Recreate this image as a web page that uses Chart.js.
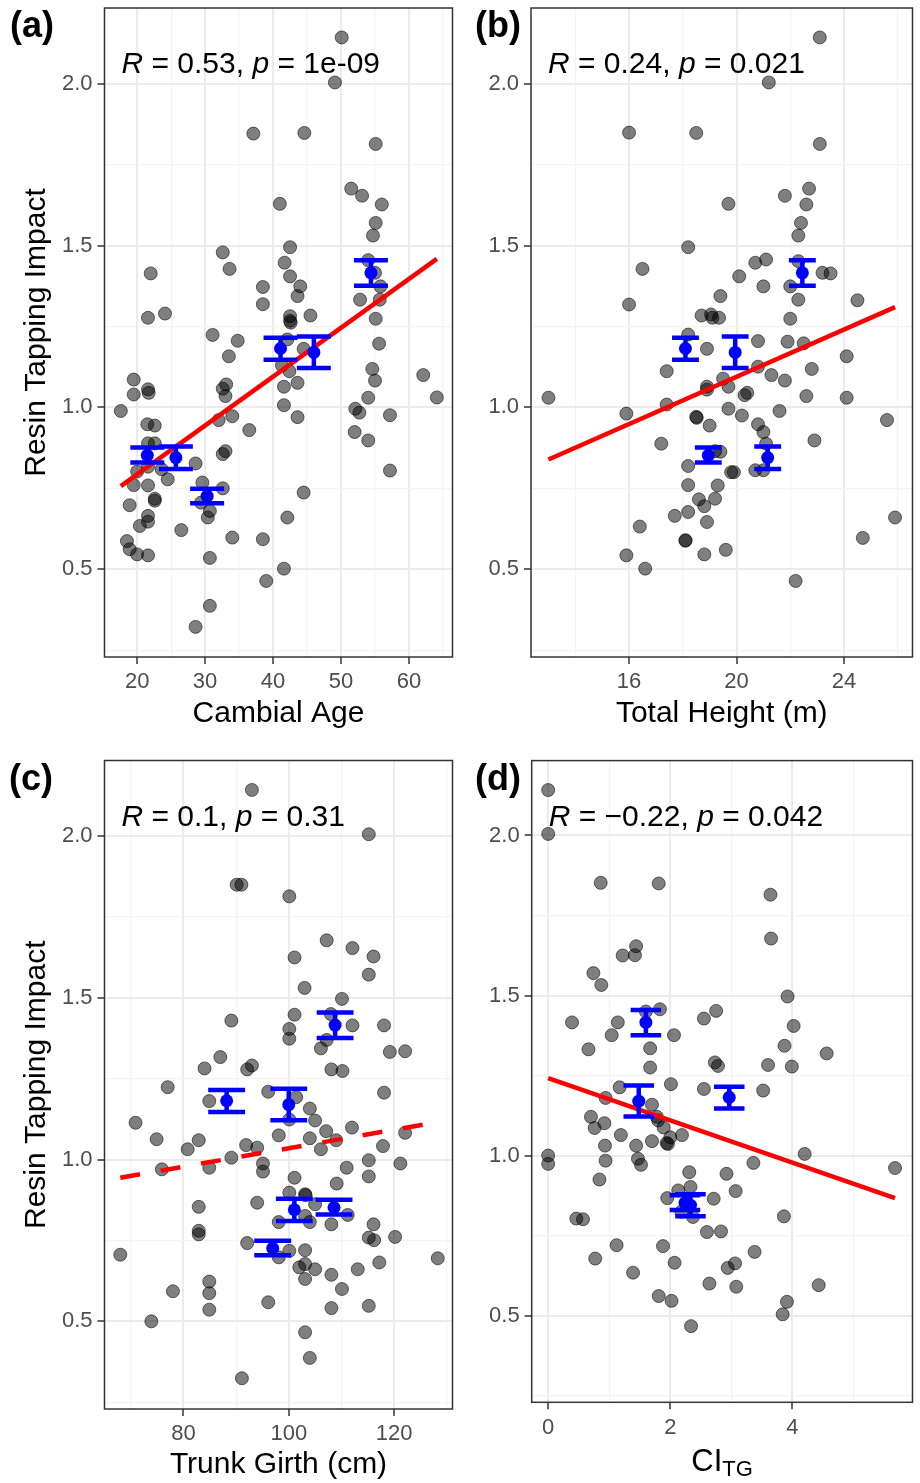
<!DOCTYPE html>
<html>
<head>
<meta charset="utf-8">
<script src="https://cdn.jsdelivr.net/npm/chart.js@4.4.1/dist/chart.umd.min.js"></script>
<style>
  body { margin: 0; background: #fff; }
  #wrap { position: relative; width: 920px; height: 1483px; background: #fff; }
  #wrap canvas { position: absolute; }
</style>
</head>
<body>
<div id="wrap">
  <canvas id="panelA" width="460" height="745" style="left:0;top:0"></canvas>
  <canvas id="panelB" width="460" height="745" style="left:460px;top:0"></canvas>
  <canvas id="panelC" width="460" height="738" style="left:0;top:745px"></canvas>
  <canvas id="panelD" width="460" height="738" style="left:460px;top:745px"></canvas>
</div>
<script>
// ---- data ----
const yTicks = [0.5, 1, 1.5, 2];
const yTickLabels = ['0.5', '1.0', '1.5', '2.0'];
const yMinor = [0.25, 0.75, 1.25, 1.75];

const ageTicks = [20, 30, 40, 50, 60];
const ageTickLabels = ['20', '30', '40', '50', '60'];
const ageMinor = [25, 35, 45, 55, 65];
const heightTicks = [16, 20, 24];
const heightTickLabels = ['16', '20', '24'];
const heightMinor = [14, 18, 22, 26];
const girthTicks = [80, 100, 120];
const girthTickLabels = ['80', '100', '120'];
const girthMinor = [70, 90, 110, 130];
const ciTicks = [0, 2, 4];
const ciTickLabels = ['0', '2', '4'];
const ciMinor = [1, 3, 5];

// (a) cambial age vs impact
const ageX = [50.1, 49.1, 37.1, 44.6, 55.1, 51.5, 53.1, 56.0, 41.0, 55.1, 54.7, 42.5, 32.6, 22.0, 33.6, 41.7, 54.0, 55.0, 42.5, 44.0,
  38.5, 55.8, 43.6, 52.8, 55.7, 38.5, 21.6, 24.1, 42.5, 42.5, 42.6, 45.5, 55.1, 31.1, 34.8, 42.1, 44.5, 55.6, 33.5, 54.6,
  55.0, 62.1, 64.1, 41.3, 42.4, 43.6, 41.6, 54.0, 41.6, 43.6, 52.1, 52.7, 57.2, 52.0, 54.0, 57.2, 19.5, 19.5, 21.6, 21.7,
  17.6, 33.1, 32.6, 33.0, 34.0, 32.0, 36.5, 21.5, 22.6, 21.6, 22.6, 21.6, 23.6, 24.5, 20.0, 19.5, 21.6, 28.6, 33.0, 32.6,
  29.6, 32.6, 22.6, 22.6, 18.9, 29.4, 30.7, 30.4, 21.6, 21.6, 20.4, 26.5, 44.5, 42.1, 34.0, 38.5, 18.5, 18.9, 20.0, 21.6,
  30.7, 41.6, 39.0, 30.7, 28.6];
const ageY = [2.143, 2.004, 1.846, 1.848, 1.814, 1.676, 1.654, 1.627, 1.629, 1.570, 1.531, 1.495, 1.479, 1.414, 1.428, 1.447, 1.455, 1.416, 1.405, 1.374,
  1.372, 1.374, 1.344, 1.333, 1.333, 1.319, 1.277, 1.290, 1.282, 1.268, 1.262, 1.284, 1.274, 1.224, 1.206, 1.210, 1.181, 1.197, 1.158, 1.119,
  1.083, 1.100, 1.031, 1.130, 1.112, 1.076, 1.064, 1.030, 1.007, 0.970, 0.996, 0.984, 0.976, 0.924, 0.898, 0.805, 1.086, 1.040, 1.056, 1.045,
  0.989, 1.071, 1.058, 1.035, 0.973, 0.961, 0.930, 0.948, 0.944, 0.889, 0.889, 0.817, 0.809, 0.778, 0.802, 0.760, 0.759, 0.827, 0.865, 0.856,
  0.768, 0.750, 0.718, 0.712, 0.698, 0.706, 0.680, 0.660, 0.665, 0.647, 0.634, 0.621, 0.737, 0.660, 0.598, 0.593, 0.587, 0.562, 0.546, 0.543,
  0.535, 0.502, 0.464, 0.387, 0.322];

// (b) total height vs impact
const heightX = [23.1, 21.2, 16.0, 18.5, 23.1, 22.7, 21.8, 22.6, 19.7, 22.4, 22.3, 18.2, 21.1, 20.7, 22.3, 16.5, 20.1, 23.2, 23.5, 21.0,
  22.0, 19.4, 16.0, 22.3, 24.5, 18.7, 19.05, 19.1, 19.35, 22.0, 18.2, 18.9, 20.8, 21.9, 22.5, 24.1, 22.8, 20.8, 17.4, 21.3,
  21.8, 19.5, 18.9, 18.9, 19.7, 20.4, 20.3, 13.0, 22.6, 24.1, 17.4, 15.9, 19.7, 20.2, 21.6, 25.6, 18.5, 18.52, 19.0, 20.8,
  21.0, 17.2, 22.9, 21.1, 19.2, 19.4, 18.2, 19.8, 19.9, 20.7, 21.0, 18.2, 19.3, 18.6, 18.8, 19.2, 17.7, 18.2, 18.9, 16.4,
  25.9, 24.7, 18.1, 18.1, 15.9, 18.8, 19.6, 16.6, 22.2];
const heightY = [2.143, 2.004, 1.849, 1.848, 1.814, 1.676, 1.654, 1.627, 1.629, 1.570, 1.531, 1.495, 1.457, 1.447, 1.452, 1.428, 1.405, 1.416, 1.414, 1.374,
  1.374, 1.344, 1.318, 1.333, 1.331, 1.284, 1.287, 1.277, 1.277, 1.274, 1.225, 1.181, 1.205, 1.203, 1.198, 1.158, 1.119, 1.126, 1.112, 1.100,
  1.083, 1.089, 1.064, 1.055, 1.064, 1.045, 1.038, 1.030, 1.035, 1.030, 1.009, 0.981, 0.996, 0.975, 0.989, 0.961, 0.971, 0.968, 0.944, 0.948,
  0.924, 0.888, 0.898, 0.888, 0.865, 0.863, 0.819, 0.800, 0.800, 0.806, 0.806, 0.760, 0.759, 0.716, 0.695, 0.718, 0.665, 0.677, 0.646, 0.632,
  0.660, 0.597, 0.590, 0.588, 0.543, 0.546, 0.560, 0.502, 0.464];

// (c) trunk girth vs impact
const girthX = [93.0, 115.2, 90.1, 91.0, 100.1, 107.2, 112.1, 116.1, 101.1, 115.2, 103.0, 110.1, 101.1, 108.0, 89.1, 112.1, 118.1, 100.1, 100.1, 107.2,
  106.1, 119.2, 122.1, 87.0, 84.0, 93.0, 92.1, 108.1, 110.2, 77.0, 118.1, 84.9, 96.1, 101.4, 104.0, 105.0, 100.1, 70.9, 112.0, 107.1,
  122.1, 74.9, 82.9, 98.1, 104.0, 109.0, 80.8, 91.9, 94.0, 106.1, 117.9, 89.1, 95.1, 95.1, 75.9, 84.9, 115.2, 121.2, 111.0, 115.2,
  101.1, 109.1, 100.1, 103.1, 103.2, 82.9, 94.0, 105.0, 111.2, 103.1, 98.1, 104.0, 108.1, 116.1, 82.9, 82.9, 115.2, 116.2, 120.2, 92.1,
  68.0, 98.1, 100.1, 103.1, 103.1, 102.0, 105.0, 103.1, 108.1, 113.1, 117.2, 128.3, 84.9, 84.9, 84.9, 78.0, 110.1, 96.1, 108.1, 115.2,
  73.9, 103.1, 104.0, 91.1];
const girthY = [2.143, 2.006, 1.850, 1.850, 1.814, 1.678, 1.654, 1.628, 1.625, 1.572, 1.531, 1.497, 1.448, 1.450, 1.430, 1.415, 1.415, 1.404, 1.374, 1.370,
  1.344, 1.333, 1.335, 1.317, 1.282, 1.291, 1.279, 1.279, 1.274, 1.224, 1.207, 1.181, 1.210, 1.193, 1.158, 1.121, 1.124, 1.114, 1.099, 1.088,
  1.083, 1.063, 1.060, 1.075, 1.066, 1.060, 1.032, 1.045, 1.037, 1.032, 1.042, 1.006, 0.988, 0.963, 0.970, 0.975, 0.998, 0.988, 0.975, 0.948,
  0.944, 0.926, 0.898, 0.893, 0.890, 0.854, 0.867, 0.862, 0.829, 0.826, 0.807, 0.807, 0.800, 0.800, 0.780, 0.769, 0.759, 0.751, 0.761, 0.742,
  0.706, 0.698, 0.718, 0.720, 0.677, 0.667, 0.661, 0.631, 0.644, 0.661, 0.682, 0.695, 0.623, 0.587, 0.536, 0.593, 0.600, 0.559, 0.541, 0.548,
  0.500, 0.466, 0.387, 0.324];

// (d) competition index vs impact
const ciX = [0, 0, 0.86, 1.81, 3.64, 3.65, 1.44, 1.22, 1.42, 0.74, 0.87, 3.92, 2.75, 2.55, 1.83, 1.60, 0.39, 1.14, 1.04, 2.06,
  4.02, 0.66, 1.67, 3.87, 4.56, 1.67, 2.73, 2.78, 3.60, 3.99, 2.01, 1.17, 2.55, 3.52, 0.94, 1.70, 0.70, 0.92, 0.76, 1.78,
  1.80, 1.89, 1.19, 2.19, 2.00, 1.94, 1.96, 1.70, 0.93, 1.44, 4.20, 0, 0, 0.94, 1.47, 1.52, 3.36, 5.68, 2.31, 2.92,
  0.84, 2.33, 3.07, 1.95, 2.13, 2.71, 2.18, 2.37, 0.46, 0.57, 3.86, 2.60, 2.83, 1.12, 1.88, 0.77, 2.07, 3.38, 2.94, 3.06,
  1.39, 2.64, 3.08, 4.43, 1.81, 2.02, 3.91, 3.84, 2.34];
const ciY = [2.142, 2.005, 1.852, 1.850, 1.815, 1.678, 1.654, 1.625, 1.626, 1.570, 1.533, 1.497, 1.452, 1.428, 1.457, 1.450, 1.416, 1.416, 1.376, 1.376,
  1.405, 1.332, 1.335, 1.343, 1.319, 1.275, 1.291, 1.280, 1.283, 1.278, 1.223, 1.213, 1.208, 1.203, 1.180, 1.159, 1.121, 1.101, 1.086, 1.121,
  1.110, 1.088, 1.064, 1.064, 1.057, 1.039, 1.036, 1.045, 1.031, 1.031, 1.005, 1.000, 0.974, 0.984, 0.990, 0.971, 0.977, 0.961, 0.948, 0.943,
  0.925, 0.902, 0.889, 0.867, 0.891, 0.865, 0.824, 0.808, 0.803, 0.801, 0.810, 0.761, 0.763, 0.720, 0.717, 0.678, 0.665, 0.699, 0.649, 0.663,
  0.634, 0.600, 0.590, 0.595, 0.561, 0.546, 0.543, 0.504, 0.467];

// group means with error bars (same groups in every panel; null = not shown)
const groupMean = [1.416, 1.182, 1.170, 0.852, 0.845, 0.726];
const groupLo = [1.376, 1.147, 1.122, 0.830, 0.810, 0.704];
const groupHi = [1.455, 1.215, 1.219, 0.876, 0.879, 0.749];
const groupAge = [54.4, 41.1, 46.0, 21.5, 25.7, 30.3];
const groupHeight = [22.45, 18.1, 19.95, 18.95, 21.16, null];
const groupGirth = [108.8, 88.2, 100.0, 108.6, 101.06, 96.95];
const groupCi = [1.60, 2.965, 1.483, 2.24, 2.33, null];

// fitted regression lines, end points
const fitAgeX = [17.6, 64.1];
const fitAgeY = [0.757, 1.459];
const fitHeightX = [13.0, 25.9];
const fitHeightY = [0.839, 1.310];
const fitGirthX = [68.0, 128.3];
const fitGirthY = [0.944, 1.116];
const fitCiX = [0, 5.68];
const fitCiY = [1.242, 0.867];

const corrR = ['0.53', '0.24', '0.1', '\u22120.22'];
const corrP = ['1e-09', '0.021', '0.31', '0.042'];

// ---- drawing ----
const FONT = '"Liberation Sans", Arial, Helvetica, sans-serif';
Chart.defaults.font.family = FONT;

const yRange = [0.229, 2.234];

function zip(xs, ys) {
  return xs.map((x, i) => ({ x: x, y: ys[i] })).filter(p => p.x !== null);
}

function makeAxis(horizontal, range, major, labels, minor, boxSize, title, titlePad) {
  const isMajor = v => major.includes(v);
  return {
    type: 'linear',
    position: horizontal ? 'bottom' : 'left',
    min: range[0],
    max: range[1],
    afterBuildTicks: s => {
      s.ticks = major.concat(minor).sort((a, b) => a - b).map(v => ({ value: v }));
    },
    afterFit: s => {
      if (horizontal) {
        s.height = boxSize; s.paddingLeft = 0; s.paddingRight = 0;
      } else {
        s.width = boxSize; s.paddingTop = 0; s.paddingBottom = 0;
      }
    },
    ticks: {
      autoSkip: false,
      maxRotation: 0,
      padding: 5,
      color: '#4d4d4d',
      font: { size: 22 },
      callback: v => {
        const i = major.indexOf(v);
        return i >= 0 ? labels[i] : '';
      }
    },
    grid: {
      color: c => (c.tick && isMajor(c.tick.value)) ? '#ebebeb' : '#f4f4f4',
      lineWidth: c => (c.tick && isMajor(c.tick.value)) ? 2 : 1.2,
      tickColor: c => (c.tick && isMajor(c.tick.value)) ? '#333333' : 'rgba(0,0,0,0)',
      tickWidth: 1.5,
      tickLength: 7,
      drawTicks: true
    },
    border: { display: false },
    title: title
      ? { display: true, text: title, color: '#000', font: { size: 30 }, padding: titlePad }
      : { display: false }
  };
}

function makePanel(id, p) {
  const decor = {
    id: 'decor',
    afterDraw(chart) {
      const { ctx, chartArea: a } = chart;
      ctx.save();
      ctx.strokeStyle = '#333333';
      ctx.lineWidth = 1.5;
      ctx.strokeRect(a.left, a.top, a.right - a.left, a.bottom - a.top);

      ctx.fillStyle = '#000';
      ctx.textBaseline = 'alphabetic';
      ctx.textAlign = 'left';
      ctx.font = 'bold 36px ' + FONT;
      ctx.fillText(p.label, p.labelX, a.top + 29);

      // correlation annotation, R and p in italics
      const runs = [
        { t: 'R', it: true }, { t: ' = ' + p.r + ', ' },
        { t: 'p', it: true }, { t: ' = ' + p.p }
      ];
      let ax = a.left + 17;
      runs.forEach(r => {
        ctx.font = (r.it ? 'italic ' : '') + '30px ' + FONT;
        ctx.fillText(r.t, ax, a.top + 65);
        ax += ctx.measureText(r.t).width;
      });

      // x title with subscript
      if (p.subTitle) {
        ctx.font = '31px ' + FONT;
        const w1 = ctx.measureText(p.subTitle[0]).width;
        ctx.font = '22px ' + FONT;
        const w2 = ctx.measureText(p.subTitle[1]).width;
        const x0 = (a.left + a.right) / 2 - (w1 + w2) / 2;
        const base = a.bottom + 69;
        ctx.font = '31px ' + FONT;
        ctx.fillText(p.subTitle[0], x0, base);
        ctx.font = '22px ' + FONT;
        ctx.fillText(p.subTitle[1], x0 + w1, base + 5);
      }
      ctx.restore();
    }
  };

  const errorBars = {
    id: 'errorBars',
    afterDatasetsDraw(chart) {
      const { ctx, scales: { x, y } } = chart;
      ctx.save();
      ctx.strokeStyle = '#0000ff';
      ctx.lineWidth = 4.5;
      p.groupX.forEach((gx, i) => {
        if (gx === null) return;
        const px = x.getPixelForValue(gx);
        const lo = y.getPixelForValue(groupLo[i]);
        const hi = y.getPixelForValue(groupHi[i]);
        const c0 = x.getPixelForValue(gx - p.cap);
        const c1 = x.getPixelForValue(gx + p.cap);
        ctx.beginPath();
        ctx.moveTo(px, lo); ctx.lineTo(px, hi);
        ctx.moveTo(c0, lo); ctx.lineTo(c1, lo);
        ctx.moveTo(c0, hi); ctx.lineTo(c1, hi);
        ctx.stroke();
      });
      ctx.restore();
    }
  };

  return new Chart(document.getElementById(id), {
    type: 'scatter',
    data: {
      datasets: [
        {
          label: 'Group mean',
          data: zip(p.groupX, groupMean),
          pointRadius: 6.5,
          pointHoverRadius: 6.5,
          backgroundColor: '#0000ff',
          borderWidth: 0
        },
        {
          label: 'Linear fit',
          data: zip(p.fitX, p.fitY),
          showLine: true,
          borderColor: '#ff0000',
          borderWidth: 4.5,
          borderDash: p.dashed ? [20, 21] : [],
          pointRadius: 0,
          fill: false
        },
        {
          label: 'Trees',
          data: zip(p.x, p.y),
          pointRadius: 6.5,
          pointHoverRadius: 6.5,
          backgroundColor: 'rgba(0,0,0,0.5)',
          borderColor: 'rgba(0,0,0,0.55)',
          borderWidth: 1
        }
      ]
    },
    options: {
      responsive: false,
      animation: false,
      events: [],
      layout: { padding: p.padding },
      plugins: {
        legend: { display: false },
        tooltip: { enabled: false }
      },
      scales: {
        x: makeAxis(true, p.xRange, p.xTicks, p.xLabels, p.xMinor, p.xBox, p.xTitle, { bottom: p.xTitlePad }),
        y: makeAxis(false, yRange, yTicks, yTickLabels, yMinor, p.yBox, p.yTitle, { top: 19 })
      }
    },
    plugins: [errorBars, decor]
  });
}

makePanel('panelA', {
  x: ageX, y: ageY, groupX: groupAge, fitX: fitAgeX, fitY: fitAgeY, cap: 2.5,
  xRange: [15.2, 66.4], xTicks: ageTicks, xLabels: ageTickLabels, xMinor: ageMinor,
  xTitle: 'Cambial Age', xTitlePad: 13, yTitle: 'Resin Tapping Impact',
  xBox: 88, yBox: 104.5, padding: { top: 8, right: 6.5, left: 0, bottom: 0 },
  label: '(a)', labelX: 10, r: corrR[0], p: corrP[0]
});
makePanel('panelB', {
  x: heightX, y: heightY, groupX: groupHeight, fitX: fitHeightX, fitY: fitHeightY, cap: 0.5,
  xRange: [12.35, 26.55], xTicks: heightTicks, xLabels: heightTickLabels, xMinor: heightMinor,
  xTitle: 'Total Height (m)', xTitlePad: 13, yTitle: null,
  xBox: 88, yBox: 71, padding: { top: 8, right: 3, left: 0, bottom: 0 },
  label: '(b)', labelX: 15, r: corrR[1], p: corrP[1]
});
makePanel('panelC', {
  x: girthX, y: girthY, groupX: groupGirth, fitX: fitGirthX, fitY: fitGirthY, cap: 3.5, dashed: true,
  xRange: [65.0, 131.1], xTicks: girthTicks, xLabels: girthTickLabels, xMinor: girthMinor,
  xTitle: 'Trunk Girth (cm)', xTitlePad: 0, yTitle: 'Resin Tapping Impact',
  xBox: 74, yBox: 104.5, padding: { top: 15.5, right: 6.5, left: 0, bottom: 0 },
  label: '(c)', labelX: 9, r: corrR[2], p: corrP[2]
});
makePanel('panelD', {
  x: ciX, y: ciY, groupX: groupCi, fitX: fitCiX, fitY: fitCiY, cap: 0.25,
  xRange: [-0.27, 5.966], xTicks: ciTicks, xLabels: ciTickLabels, xMinor: ciMinor,
  xTitle: null, subTitle: ['CI', 'TG'], yTitle: null,
  xBox: 80.7, yBox: 71.7, padding: { top: 15.6, right: 2.7, left: 0, bottom: 0 },
  label: '(d)', labelX: 15, r: corrR[3], p: corrP[3]
});
</script>
</body>
</html>
